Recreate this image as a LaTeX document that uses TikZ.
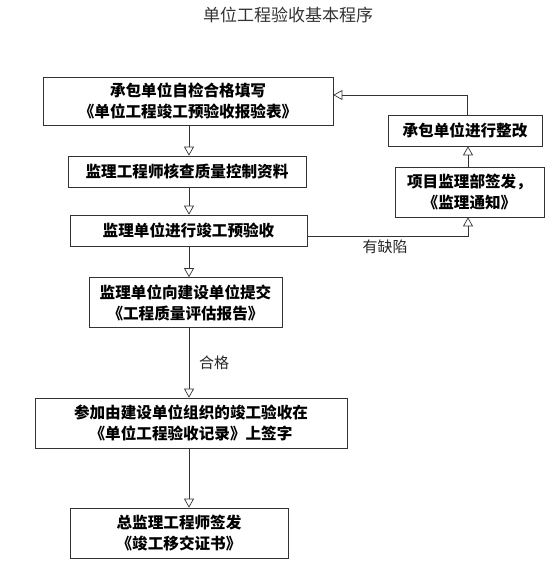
\documentclass[tikz,border=0pt]{standalone}
\usepackage{fontspec}
\setmainfont{Noto Sans CJK SC}
\usetikzlibrary{arrows.meta,positioning}

\tikzset{
  box/.style={draw=black!80, line width=0.7pt, align=center, inner sep=0pt,
    font=\fontsize{15.6}{21}\selectfont\bfseries},
  flow/.style={draw=black!80, line width=0.7pt,
    -{Triangle[open, length=9pt, width=10pt]}},
  lbl/.style={font=\fontsize{15}{18}\selectfont, text=black!85}
}

\begin{document}
\begin{tikzpicture}[x=1pt, y=-1pt]
\useasboundingbox (0,0) rectangle (554,578);

\node[font=\fontsize{17}{20}\selectfont, text=black!80] (title) at (288,15) {单位工程验收基本程序};

% main column
\node[box, minimum width=290pt, minimum height=48pt] (b1) at (188,101)
  {承包单位自检合格填写\\《单位工程竣工预验收报验表》};
\node[box, minimum width=238pt, minimum height=31pt] (b2) at (187,171.5)
  {监理工程师核查质量控制资料};
\node[box, minimum width=237pt, minimum height=31pt] (b3) at (188.5,230.5)
  {监理单位进行竣工预验收};
\node[box, minimum width=193pt, minimum height=50pt] (b4) at (185.5,302.5)
  {监理单位向建设单位提交\\《工程质量评估报告》};
\node[box, minimum width=312pt, minimum height=50pt] (b5) at (191,423)
  {参加由建设单位组织的竣工验收在\\《单位工程验收记录》上签字};
\node[box, minimum width=218pt, minimum height=50pt] (b6) at (179,533)
  {总监理工程师签发\\《竣工移交证书》};

% correction loop
\node[box, minimum width=154pt, minimum height=31pt] (fix) at (465,130.5)
  {承包单位进行整改};
\node[box, minimum width=149pt, minimum height=50pt] (note) at (469.5,192)
  {项目监理部签发，\\《监理通知》};

\coordinate (c1) at (189,0);
\foreach \a/\b in {b1/b2, b2/b3, b3/b4, b4/b5, b5/b6} {
    \draw[flow] (c1 |- \a.south) -- (c1 |- \b.north);
}

% defect path
\coordinate (d0) at (307,236);
\coordinate (d1) at (468,236);
\draw[flow] (d0) -- (d1) -- (note.south -| d1);
\draw[flow] (note.north -| d1) -- (fix.south -| d1);

\coordinate (r0) at (467,95);
\draw[flow] (fix.north -| r0) -- (r0) -- (b1.east |- r0);

\node[lbl] (defect) at (385,247) {有缺陷};
\node[lbl] (pass) at (214,363) {合格};
\end{tikzpicture}
\end{document}
